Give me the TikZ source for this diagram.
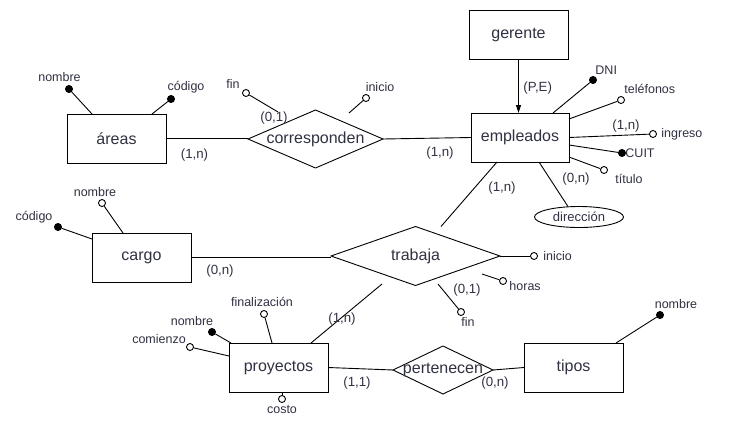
\documentclass[tikz,border=0pt]{standalone}
\usepackage{fontspec}
\setmainfont{Liberation Sans}
\usetikzlibrary{shapes.geometric,calc,arrows.meta}
\definecolor{txt}{RGB}{48,50,66}
\begin{document}
\begin{tikzpicture}[x={(1pt,0)},y={(0,-1pt)},line width=0.9pt,
  ent/.style={draw,rectangle,minimum width=99pt,minimum height=49pt,inner sep=0pt,outer sep=0pt,text=txt,font=\fontsize{16}{18}\selectfont},
  rel/.style={draw,diamond,inner sep=0pt,outer sep=0pt},
  rtext/.style={text=txt,font=\fontsize{16}{18}\selectfont,inner sep=0pt},
  key/.style={circle,draw,fill=black,inner sep=0pt,minimum size=7pt},
  att/.style={circle,draw,fill=white,inner sep=0pt,minimum size=7pt},
  lab/.style={text=txt,font=\fontsize{12.5}{14}\selectfont,inner sep=0pt},
  card/.style={text=txt,font=\fontsize{13.3}{15}\selectfont,inner sep=0pt}]
\useasboundingbox[fill=white] (0,0) rectangle (734,424);

% entities
\node[ent] (ger) at (518.5,34.5) {gerente};
\node[ent,minimum width=98pt] (emp) at (520,137.5) {empleados};
\node[ent] (areas) at (116.5,138.5) {áreas};
\node[ent] (cargo) at (141.5,257.5) {cargo};
\node[ent] (proy) at (278.5,367.5) {proyectos};
\node[ent] (tipos) at (573.5,367.5) {tipos};

% relationships
\node[rel,minimum width=135pt,minimum height=58pt] (corr) at (315.5,139) {};
\node[rtext] at (corr.center) {corresponden};
\node[rel,minimum width=169pt,minimum height=59pt] (trab) at (415.5,256) {};
\node[rtext] at (trab.center) {trabaja};
\node[rel,minimum width=100pt,minimum height=48pt] (pert) at (443,370) {};
\node[rtext] at (pert.center) {pertenecen};

% composite attribute
\node[draw,ellipse,minimum width=89pt,minimum height=21pt,inner sep=0pt,text=txt,font=\fontsize{13}{15}\selectfont] (dir) at (579,217) {dirección};

% main connectors
\draw (areas.east) -- (areas.east -| corr.west);
\draw (corr.east) -- (emp.west);
\draw (cargo.east) -- (cargo.east -| trab.west);
\draw (proy.east) -- (pert.west);
\draw (pert.east) -- (tipos.west);
\draw[-{Triangle[length=8pt,width=5pt]}] (ger.south) -- (ger.south |- emp.north);
\draw ($(emp.south west)+(26,0)$) -- ($(trab.north)+(25.5,0)$);
\draw ($(emp.south west)+(68,0)$) -- ($(dir.north)+(-11,0.5)$);
\draw ($(trab.south)+(-33.5,-1.5)$) -- ($(proy.north east)+(-17,0)$);

% attributes: áreas
\node[key] (an) at (69,89) {};
\draw (an) -- ($(areas.north west)+(25,0)$);
\node[key] (ac) at (171,99) {};
\draw (ac) -- ($(areas.north east)+(-14,0)$);
\node[lab] at (59.5,77) {nombre};
\node[lab] at (186,87) {código};

% corresponden
\node[att] (cf) at (246,93) {};
\draw (cf) -- ($(corr.north)+(-37.5,2)$);
\node[att] (ci) at (366,98) {};
\draw (ci) -- ($(corr.north)+(33.5,3)$);
\node[lab] at (233,84) {fin};
\node[lab] at (380,87) {inicio};
\node[card] at (274,118) {(0,1)};
\node[card] at (194.5,155) {(1,n)};
\node[card] at (440,153) {(1,n)};

% empleados
\node[card,anchor=west] at (523,88) {(P,E)};
\node[key] (ed) at (593,80) {};
\draw (ed) -- ($(emp.north west)+(82,0)$);
\node[att] (et) at (621,100) {};
\draw (et) -- ($(emp.north east)+(0,6)$);
\node[att] (ei) at (653,134) {};
\draw (ei) -- (emp.east);
\node[key] (ec) at (622,153) {};
\draw (ec) -- ($(emp.east)+(0,7.5)$);
\node[att] (eti) at (604,170) {};
\draw (eti) -- ($(emp.south east)+(0,-5)$);
\node[lab,anchor=west] at (595,70) {DNI};
\node[lab,anchor=west] at (624,89) {teléfonos};
\node[lab,anchor=west] at (661,134) {ingreso};
\node[lab,anchor=west] at (625,153) {CUIT};
\node[lab,anchor=west] at (615,179) {título};
\node[card] at (626,126) {(1,n)};
\node[card] at (576,179) {(0,n)};
\node[card] at (502,188) {(1,n)};

% cargo
\node[key] (gc) at (58,227) {};
\draw (gc) -- ($(cargo.west)+(0,-18.5)$);
\node[att] (gn) at (102,203) {};
\draw (gn) -- ($(cargo.north west)+(31,0)$);
\node[lab] at (34,217) {código};
\node[lab] at (95,192) {nombre};
\node[card] at (220,271) {(0,n)};

% trabaja
\node[att] (ti) at (534,256) {};
\draw (trab.east) -- (ti);
\node[att] (th) at (503,281) {};
\draw ($(trab.east)+(-18,18)$) -- (th);
\node[att] (tf) at (461,312) {};
\draw ($(trab.south)+(22.5,-1.5)$) -- (tf);
\node[lab,anchor=west] at (543,256) {inicio};
\node[lab,anchor=west] at (509,286) {horas};
\node[lab] at (468,322) {fin};
\node[card] at (467,290) {(0,1)};
\node[card] at (342,319) {(1,n)};

% proyectos
\node[att] (pf) at (264,314) {};
\draw (pf) -- ($(proy.north west)+(43,0)$);
\node[key] (pn) at (212,332) {};
\draw (pn) -- ($(proy.north west)+(2,0)$);
\node[att] (pc) at (190,347) {};
\draw (pc) -- ($(proy.west)+(0,-11.5)$);
\node[att] (pk) at (282,399) {};
\draw ($(proy.south)+(3.5,0)$) -- (pk);
\node[lab] at (262,302) {finalización};
\node[lab] at (192,321) {nombre};
\node[lab] at (159,339) {comienzo};
\node[lab] at (282,410) {costo};
\node[card] at (357,383) {(1,1)};
\node[card] at (495,383) {(0,n)};

% tipos
\node[key] (tn) at (660,315) {};
\draw (tn) -- ($(tipos.north east)+(-7,0)$);
\node[lab] at (676,304) {nombre};
\end{tikzpicture}
\end{document}
